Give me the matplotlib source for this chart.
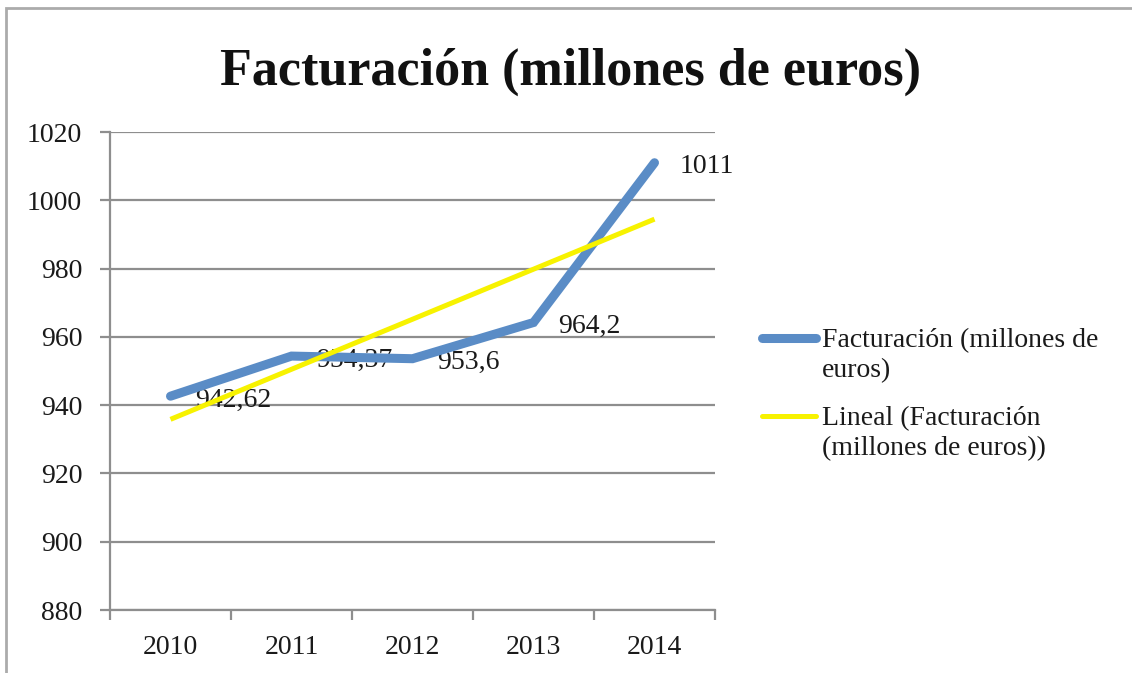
import numpy as np
import matplotlib
matplotlib.use("Agg")
import matplotlib.pyplot as plt
from matplotlib.lines import Line2D
from matplotlib.patches import Rectangle

years = ["2010", "2011", "2012", "2013", "2014"]
values = [942.62, 954.37, 953.6, 964.2, 1011]
value_labels = ["942,62", "954,37", "953,6", "964,2", "1011"]
y_ticks = [880, 900, 920, 940, 960, 980, 1000, 1020]
title = "Facturación (millones de euros)"
legend_labels = ["Facturación (millones de\neuros)", "Lineal (Facturación\n(millones de euros))"]

plt.rcParams['font.family'] = ['Liberation Serif', 'DejaVu Serif']

W, H = 1132, 673
fig = plt.figure(figsize=(W / 100, H / 100), dpi=100)
fig.patch.set_facecolor("white")

def fx(px):
    return px / W

def fy(py):
    return 1 - py / H

ax = fig.add_axes([fx(110), fy(610), fx(715) - fx(110), fy(132) - fy(610)])

x = np.arange(len(years))
blue = "#5A8CC6"
yellow = "#F7F200"
grid_c = "#8E8E8E"
txt_c = "#1a1a1a"
fs = 20

# trend line (least-squares linear fit of the series)
coef = np.polyfit(x, values, 1)
trend = np.polyval(coef, x)

for i, (v, lab) in enumerate(zip(values, value_labels)):
    ax.annotate(lab, (i, v), xytext=(18, -3), textcoords="offset points",
                ha="left", va="center", fontsize=fs, color=txt_c, zorder=2)

ax.plot(x, values, color=blue, lw=6.5, solid_capstyle="round", solid_joinstyle="miter", zorder=3)
ax.plot(x, trend, color=yellow, lw=3.6, solid_capstyle="butt", zorder=4)

ax.set_xlim(-0.5, len(years) - 0.5)
ax.set_ylim(880, 1020)
ax.set_yticks(y_ticks)
ax.set_yticklabels([str(t) for t in y_ticks])
ax.yaxis.grid(True, color=grid_c, lw=1.6)
ax.set_axisbelow(True)

ax.set_xticks(np.arange(-0.5, len(years), 1.0))
ax.set_xticklabels([])
ax.set_xticks(x, minor=True)
ax.set_xticklabels(years, minor=True)
ax.tick_params(axis="x", which="major", length=7, width=1.6, color=grid_c, direction="out")
ax.tick_params(axis="x", which="minor", length=0, pad=18, labelsize=fs, labelcolor=txt_c)
ax.tick_params(axis="y", length=7, width=1.6, color=grid_c, pad=13, labelsize=fs, labelcolor=txt_c)

for s in ["top", "right"]:
    ax.spines[s].set_visible(False)
for s in ["left", "bottom"]:
    ax.spines[s].set_color(grid_c)
    ax.spines[s].set_linewidth(1.6)

# title
fig.text(fx(570), fy(85), title, ha="center", va="baseline", fontsize=37.5,
         fontweight="bold", color="#111111")

# legend (manual)
leg_items = [(blue, 6.5, 338, 347), (yellow, 3.6, 416, 425)]
for (c, lw, ypx, base), lab in zip(leg_items, legend_labels):
    fig.add_artist(Line2D([fx(762), fx(816)], [fy(ypx), fy(ypx)], color=c, lw=lw,
                          solid_capstyle="round", transform=fig.transFigure))
    for k, line in enumerate(lab.split("\n")):
        fig.text(fx(822), fy(base + 30 * k), line, ha="left", va="baseline",
                 fontsize=fs, color=txt_c)

# outer border
fig.add_artist(Rectangle((fx(6), fy(690)), 1.2, fy(8) - fy(690), fill=False,
                         edgecolor="#ABABAB", lw=2, transform=fig.transFigure))

fig.savefig("out.png", dpi=100)
